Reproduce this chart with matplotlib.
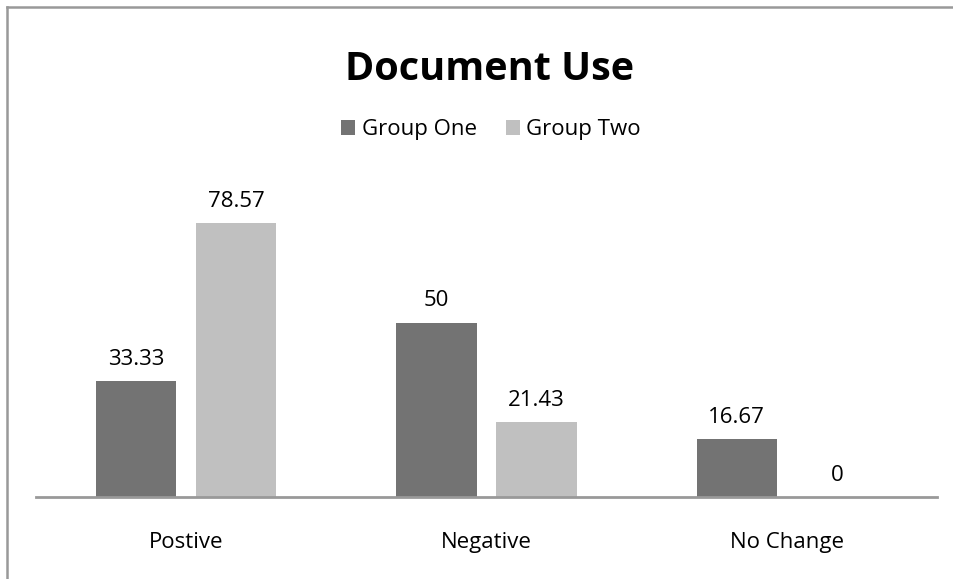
import matplotlib.pyplot as plt
import numpy as np

categories = ['Postive', 'Negative', 'No Change']
group_one = [33.33, 50, 16.67]
group_two = [78.57, 21.43, 0]
labels_one = ['33.33', '50', '16.67']
labels_two = ['78.57', '21.43', '0']

plt.rcParams['font.family'] = ['Open Sans', 'DejaVu Sans']

fig = plt.figure(figsize=(9.54, 5.79), dpi=100)
W, H = 954, 579

# outer chart border (left and top visible)
fig.add_artist(plt.Line2D([7 / W, 7 / W], [0, 1 - 7 / H], color='#999999', lw=1.8))
fig.add_artist(plt.Line2D([7 / W, 1], [1 - 7 / H, 1 - 7 / H], color='#999999', lw=1.8))

ax = fig.add_axes([36 / W, 82 / H, 901 / W, 314 / H])
x = np.arange(len(categories))
w = 0.267
b1 = ax.bar(x - 0.1667, group_one, w, color='#737373', label='Group One')
b2 = ax.bar(x + 0.1667, group_two, w, color='#c0c0c0', label='Group Two')

for bars, labs in [(b1, labels_one), (b2, labels_two)]:
    for bar, lab in zip(bars, labs):
        ax.annotate(lab, (bar.get_x() + bar.get_width() / 2, bar.get_height()),
                    xytext=(0, 8), textcoords='offset points',
                    ha='center', va='bottom', fontsize=16)

ax.set_xlim(-0.5, 2.5)
ax.set_ylim(0, 90)
ax.set_xticks(x)
ax.set_xticklabels(categories, fontsize=16)
ax.tick_params(axis='x', length=0, pad=25)
ax.set_yticks([])
for s in ['top', 'right', 'left']:
    ax.spines[s].set_visible(False)
ax.spines['bottom'].set_color('#999999')
ax.spines['bottom'].set_linewidth(2)

fig.text(490 / W, 1 - 69 / H, 'Document Use', ha='center', va='center',
         fontsize=28.5, fontweight='bold')
fig.legend(loc='center', bbox_to_anchor=(491 / W, 1 - 130 / H), ncol=2, frameon=False,
           fontsize=16, handlelength=0.63, handleheight=0.63, handletextpad=0.3,
           columnspacing=1.3)

fig.savefig('out.png', dpi=100)
